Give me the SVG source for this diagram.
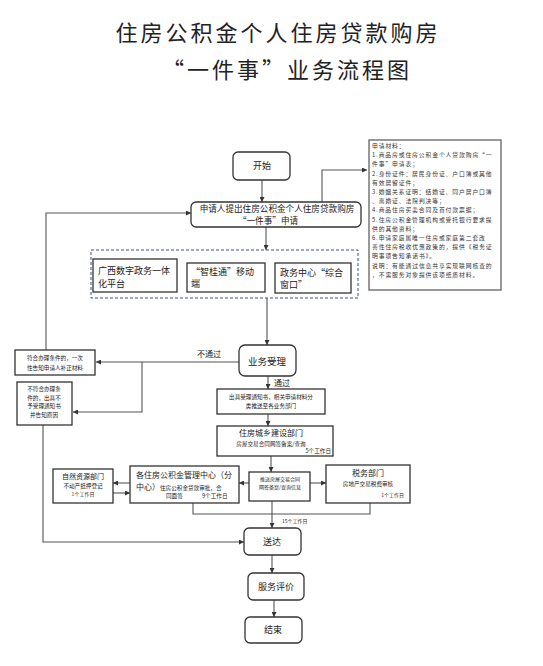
<svg xmlns="http://www.w3.org/2000/svg" width="543" height="666" viewBox="0 0 543 666">
<style>
text{font-family:"Noto Sans CJK SC","Liberation Sans",sans-serif;fill:#222}
.title{font-size:22px;letter-spacing:3px;text-anchor:middle}
.box{fill:#fff;stroke:#333;stroke-width:1.3}
.rbox{fill:#fff;stroke:#333;stroke-width:1.3}
.ln{fill:none;stroke:#555;stroke-width:1.1}
.t9{font-size:9px}
.t8{font-size:8px}
.t6{font-size:5.6px}
.mat{font-size:5.8px;letter-spacing:0.9px;fill:#333}
.c{text-anchor:middle}
.r{text-anchor:end}
</style>
<defs>
<marker id="ar" viewBox="0 0 6 6" refX="6" refY="3" markerWidth="5" markerHeight="5" orient="auto" markerUnits="userSpaceOnUse">
<path d="M0,0 L6,3 L0,6 z" fill="#333"/>
</marker>
</defs>
<rect width="543" height="666" fill="#fff"/>
<text class="title" x="278" y="41">住房公积金个人住房贷款购房</text>
<text class="title" x="287" y="78">“一件事”业务流程图</text>

<g id="connectors">
<line class="ln" x1="262" y1="180" x2="262" y2="202" marker-end="url(#ar)"/>
<polyline class="ln" points="322,202 322,170 367,170" marker-end="url(#ar)"/>
<line class="ln" x1="266" y1="227" x2="266" y2="250" marker-end="url(#ar)"/>
<line class="ln" x1="267" y1="298" x2="267" y2="345" marker-end="url(#ar)"/>
<line class="ln" x1="239" y1="362" x2="96" y2="362" marker-end="url(#ar)"/>
<polyline class="ln" points="142,362 142,412 73,412" marker-end="url(#ar)"/>
<polyline class="ln" points="46,350 46,213 191,213" marker-end="url(#ar)"/>
<polyline class="ln" points="43,425 43,542 244,542" marker-end="url(#ar)"/>
<line class="ln" x1="268" y1="376" x2="268" y2="389" marker-end="url(#ar)"/>
<line class="ln" x1="268" y1="414" x2="268" y2="426" marker-end="url(#ar)"/>
<line class="ln" x1="271" y1="456" x2="271" y2="472" marker-end="url(#ar)"/>
<line class="ln" x1="249" y1="483" x2="239" y2="483" marker-end="url(#ar)"/>
<line class="ln" x1="310" y1="483" x2="326" y2="483" marker-end="url(#ar)"/>
<line class="ln" x1="130" y1="483" x2="113" y2="483" marker-end="url(#ar)"/>
<line class="ln" x1="113" y1="493" x2="130" y2="493" marker-end="url(#ar)"/>
<polyline class="ln" points="193,503 193,514 370,514 370,503"/>
<line class="ln" x1="272" y1="501" x2="272" y2="528" marker-end="url(#ar)"/>
<line class="ln" x1="272" y1="555" x2="272" y2="573" marker-end="url(#ar)"/>
<line class="ln" x1="274" y1="600" x2="274" y2="617" marker-end="url(#ar)"/>
<text class="t8" x="197" y="357">不通过</text>
<text class="t8" x="274" y="386">通过</text>
<text class="t6" x="282" y="523" style="font-size:5px">15个工作日</text>
</g>

<g id="start">
<rect class="rbox" x="233" y="152" width="57" height="28" rx="5"/>
<text class="t9 c" x="262" y="169">开始</text>
</g>

<g id="materials">
<rect x="369" y="140" width="132" height="150" fill="#fff" stroke="#777" stroke-width="1.5"/>
<text class="mat" x="372" y="148">申请材料：</text>
<text class="mat" x="372" y="157.2">1.商品房或住房公积金个人贷款购房“一</text>
<text class="mat" x="372" y="166.4">件事”申请表；</text>
<text class="mat" x="372" y="175.6">2.身份证件：居民身份证、户口簿或其他</text>
<text class="mat" x="372" y="184.8">有效居留证件；</text>
<text class="mat" x="372" y="194">3.婚姻关系证明：结婚证、同户居户口簿</text>
<text class="mat" x="372" y="203.2">、离婚证、法院判决等；</text>
<text class="mat" x="372" y="212.4">4.商品住房买卖合同及首付款票据；</text>
<text class="mat" x="372" y="221.6">5.住房公积金管理机构或受托银行要求提</text>
<text class="mat" x="372" y="230.8">供的其他资料；</text>
<text class="mat" x="372" y="240">6.申请家庭属唯一住房或家庭第二套改</text>
<text class="mat" x="372" y="249.2">善性住房税收优惠政策的，提供《税务证</text>
<text class="mat" x="372" y="258.4">明事项告知承诺书》。</text>
<text class="mat" x="372" y="267.6">说明：有能通过信息共享实现联网核查的</text>
<text class="mat" x="372" y="276.8">，不需服务对象提供该项纸质材料。</text>
</g>

<g id="apply">
<rect class="rbox" x="191" y="202" width="170" height="25" rx="5"/>
<text class="c" x="277" y="212" style="font-size:8.6px">申请人提出住房公积金个人住房贷款购房</text>
<text class="c" x="268" y="224" style="font-size:8.6px">“一件事”申请</text>
</g>

<g id="channels">
<rect x="91" y="250" width="267" height="48" fill="none" stroke="#3a4f8a" stroke-width="1" stroke-dasharray="3,2"/>
<rect class="box" x="93" y="259" width="84" height="33"/>
<text class="t9" x="98" y="274">广西数字政务一体</text>
<text class="t9" x="98" y="287">化平台</text>
<rect class="box" x="187" y="263" width="78" height="29"/>
<text class="t9" x="191" y="275">“智桂通”移动</text>
<text class="t9" x="191" y="287">端</text>
<rect class="box" x="275" y="263" width="76" height="30"/>
<text class="t9" x="280" y="276">政务中心“综合</text>
<text class="t9" x="280" y="288">窗口”</text>
</g>

<g id="accept">
<rect class="rbox" x="239" y="345" width="57" height="31" rx="6"/>
<text class="c" x="267" y="365" style="font-size:9.5px">业务受理</text>
</g>

<g id="supplement">
<rect class="box" x="15" y="350" width="80" height="25"/>
<text class="t6 c" x="55" y="360">符合办理条件的，一次</text>
<text class="t6 c" x="55" y="370">性告知申请人补正材料</text>
</g>

<g id="reject">
<rect class="box" x="17" y="382" width="55" height="43"/>
<text class="t6 c" x="44" y="391">不符合办理条</text>
<text class="t6 c" x="44" y="400">件的，出具不</text>
<text class="t6 c" x="44" y="408">予受理通知书</text>
<text class="t6 c" x="44" y="417">并告知原因</text>
</g>

<g id="notice">
<rect class="box" x="217" y="389" width="108" height="25"/>
<text class="t6 c" x="271" y="399">出具受理通知书，相关申请材料分</text>
<text class="t6 c" x="271" y="408">类推送至各业务部门</text>
</g>

<g id="housing">
<rect class="box" x="217" y="426" width="116" height="30"/>
<text class="t8 c" x="271" y="436">住房城乡建设部门</text>
<text class="t6 c" x="271" y="446">房屋交易合同网签备案/查询</text>
<text class="t6 r" x="331" y="453">5个工作日</text>
</g>

<g id="push">
<rect class="box" x="249" y="472" width="61" height="29"/>
<text class="t6 c" x="280" y="481" style="font-size:5px">推送房屋交易合同</text>
<text class="t6 c" x="280" y="489" style="font-size:5px">网签备案/查询信息</text>
</g>

<g id="fund">
<rect class="box" x="130" y="466" width="109" height="37"/>
<text class="t8" x="136" y="478">各住房公积金管理中心（分</text>
<text x="136" y="490" style="font-size:8px">中心）<tspan style="font-size:5.6px">住房公积金贷款审批，合</tspan></text>
<text class="t6" x="166" y="498">同面签</text>
<text class="t6" x="202" y="498">9个工作日</text>
</g>

<g id="resources">
<rect class="box" x="53" y="469" width="60" height="34"/>
<text class="c" x="83" y="479" style="font-size:7px">自然资源部门</text>
<text class="t6 c" x="83" y="488">不动产抵押登记</text>
<text class="c" x="83" y="496" style="font-size:5px">1个工作日</text>
</g>

<g id="tax">
<rect class="box" x="326" y="465" width="84" height="38"/>
<text class="t8 c" x="368" y="476">税务部门</text>
<text class="t6 c" x="368" y="486">房地产交易税费审核</text>
<text class="r" x="404" y="497" style="font-size:5px">1个工作日</text>
</g>

<g id="deliver">
<rect class="rbox" x="244" y="528" width="57" height="27" rx="5"/>
<text class="t9 c" x="272" y="545">送达</text>
</g>

<g id="evaluate">
<rect class="rbox" x="248" y="573" width="56" height="27" rx="5"/>
<text class="t9 c" x="276" y="590">服务评价</text>
</g>

<g id="end">
<rect class="rbox" x="245" y="617" width="57" height="26" rx="5"/>
<text class="t9 c" x="273" y="633">结束</text>
</g>
</svg>
